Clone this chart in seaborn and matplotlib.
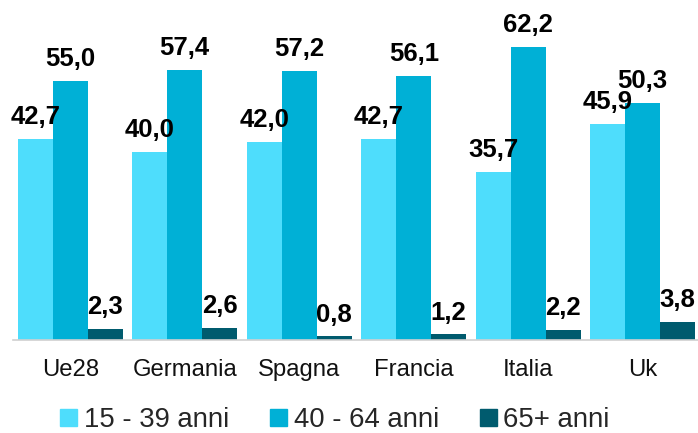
import pandas as pd
import seaborn as sns
import matplotlib.pyplot as plt

# dati
paesi = ["Ue28", "Germania", "Spagna", "Francia", "Italia", "Uk"]
fasce = ["15 - 39 anni", "40 - 64 anni", "65+ anni"]
v_15_39 = [42.7, 40.0, 42.0, 42.7, 35.7, 45.9]
v_40_64 = [55.0, 57.4, 57.2, 56.1, 62.2, 50.3]
v_65 = [2.3, 2.6, 0.8, 1.2, 2.2, 3.8]

colori = ["#4EDDFC", "#00B0D6", "#005B6E"]

df = pd.DataFrame({
    "Paese": paesi * 3,
    "Fascia": [fasce[0]] * 6 + [fasce[1]] * 6 + [fasce[2]] * 6,
    "Valore": v_15_39 + v_40_64 + v_65,
})

sns.set_theme(style="white")
plt.rcParams["font.family"] = ["Liberation Sans", "DejaVu Sans"]

fig = plt.figure(figsize=(6.98, 4.33), dpi=100)
ax = fig.add_axes([13 / 698, 93 / 433, 687 / 698, 340 / 433])

sns.barplot(data=df, x="Paese", y="Valore", hue="Fascia", order=paesi,
            hue_order=fasce, palette=colori, width=0.913, gap=0,
            saturation=1, linewidth=0, ax=ax, legend=False)

for cont in ax.containers:
    ax.bar_label(cont, labels=[f"{v:.1f}".replace(".", ",") for v in cont.datavalues],
                 padding=7, fontsize=18.5, fontweight="bold", color="black")

ax.set_xlim(-0.5, 5.5)
ax.set_ylim(0, 72.2)
ax.set_xlabel("")
ax.set_ylabel("")
ax.set_yticks([])
ax.tick_params(axis="x", length=0, pad=14, labelsize=17.2, colors="#111111")
for s in ["top", "right", "left"]:
    ax.spines[s].set_visible(False)
ax.spines["bottom"].set_color("#d0d0d0")
ax.spines["bottom"].set_linewidth(1.2)

handles = [plt.Rectangle((0, 0), 1, 1, color=c) for c in colori]
fig.legend(handles, fasce, loc="lower center", bbox_to_anchor=(0.48, -0.058),
           ncol=3, frameon=False, fontsize=19.8, handlelength=0.6,
           handleheight=0.6, handletextpad=0.25, columnspacing=1.5)

fig.savefig("out.png", dpi=100)
